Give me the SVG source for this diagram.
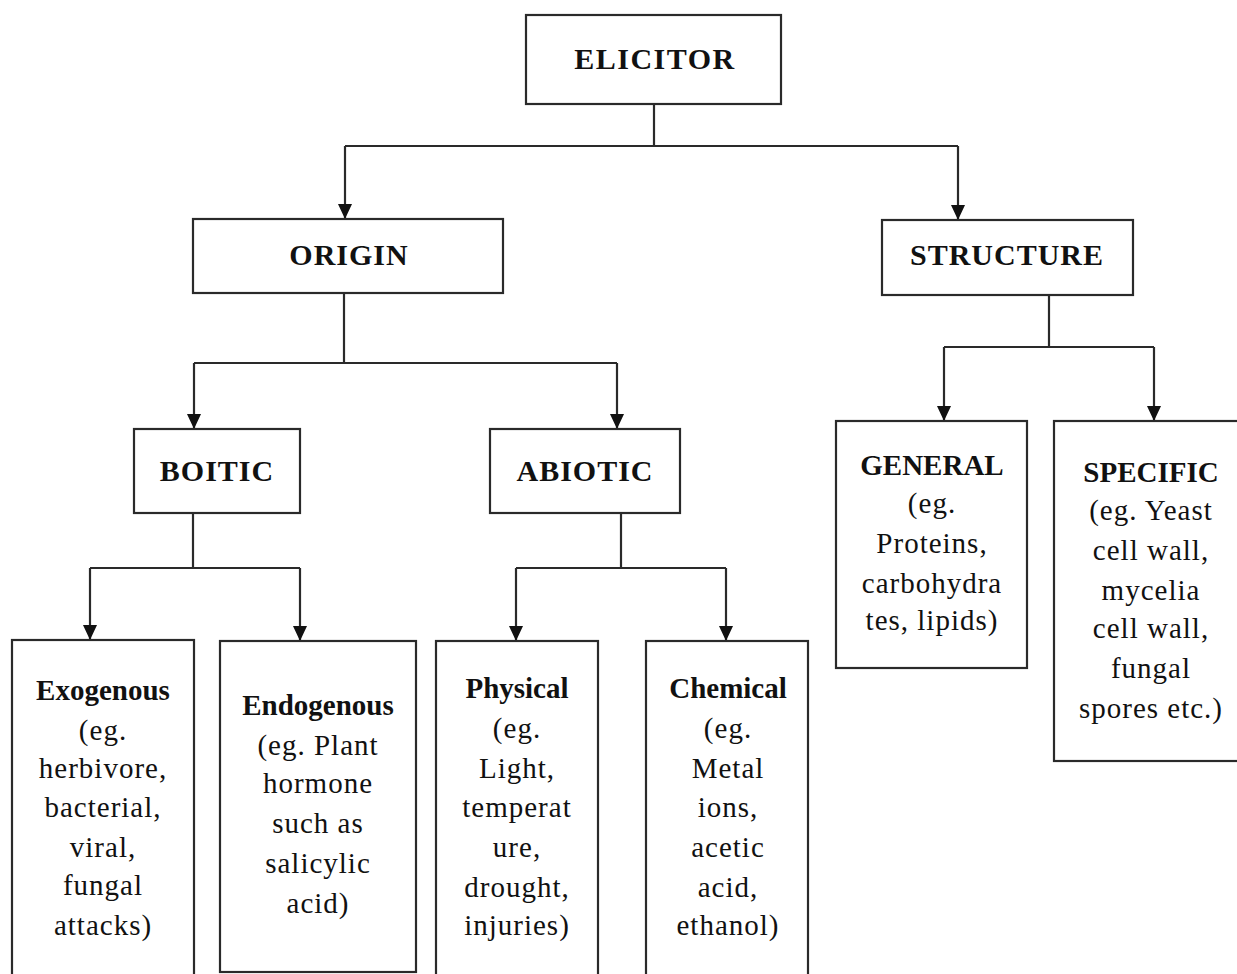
<svg xmlns="http://www.w3.org/2000/svg" width="1237" height="974" viewBox="0 0 1237 974">
<style>
.box{fill:#fff;stroke:#2a2a2a;stroke-width:2.2}
.ln{fill:none;stroke:#2a2a2a;stroke-width:2.2}
.h{font-family:"Liberation Serif","Times New Roman",serif;font-weight:bold;font-size:30px;letter-spacing:1px;text-anchor:middle;fill:#111}
.b{font-family:"Liberation Serif","Times New Roman",serif;font-weight:bold;font-size:29px;text-anchor:middle;fill:#111}
.t{font-family:"Liberation Serif","Times New Roman",serif;font-size:29px;letter-spacing:1px;text-anchor:middle;fill:#111}
</style>
<defs>
<marker id="ah" markerUnits="userSpaceOnUse" markerWidth="16" markerHeight="16" viewBox="0 0 16 16" refX="8" refY="15" orient="auto-start-reverse">
<path d="M1,0 L15,0 L8,15 Z" fill="#111" transform="rotate(-90 8 8)"/>
</marker>
<marker id="arr" markerUnits="userSpaceOnUse" markerWidth="16" markerHeight="16" viewBox="0 0 16 16" refX="15" refY="8" orient="auto">
<path d="M0,1 L15,8 L0,15 Z" fill="#111"/>
</marker>
</defs>
<rect width="1237" height="974" fill="#fff"/>

<g id="connectors">
<path class="ln" d="M654,104 V146 M345,146 H958"/>
<path class="ln" d="M345,146 V219" marker-end="url(#arr)"/>
<path class="ln" d="M958,146 V220" marker-end="url(#arr)"/>
<path class="ln" d="M344,293 V363 M194,363 H617"/>
<path class="ln" d="M194,363 V429" marker-end="url(#arr)"/>
<path class="ln" d="M617,363 V429" marker-end="url(#arr)"/>
<path class="ln" d="M193,513 V568 M90,568 H300"/>
<path class="ln" d="M90,568 V640" marker-end="url(#arr)"/>
<path class="ln" d="M300,568 V641" marker-end="url(#arr)"/>
<path class="ln" d="M621,513 V568 M516,568 H726"/>
<path class="ln" d="M516,568 V641" marker-end="url(#arr)"/>
<path class="ln" d="M726,568 V641" marker-end="url(#arr)"/>
<path class="ln" d="M1049,295 V347 M944,347 H1154"/>
<path class="ln" d="M944,347 V421" marker-end="url(#arr)"/>
<path class="ln" d="M1154,347 V421" marker-end="url(#arr)"/>
</g>

<g id="elicitor">
<rect class="box" x="526" y="15" width="255" height="89"/>
<text class="h" x="655" y="69" style="letter-spacing:1.5px">ELICITOR</text>
</g>
<g id="origin">
<rect class="box" x="193" y="219" width="310" height="74"/>
<text class="h" x="349" y="265">ORIGIN</text>
</g>
<g id="structure">
<rect class="box" x="882" y="220" width="251" height="75"/>
<text class="h" x="1007" y="265">STRUCTURE</text>
</g>
<g id="boitic">
<rect class="box" x="134" y="429" width="166" height="84"/>
<text class="h" x="217" y="481">BOITIC</text>
</g>
<g id="abiotic">
<rect class="box" x="490" y="429" width="190" height="84"/>
<text class="h" x="585" y="481">ABIOTIC</text>
</g>
<g id="exogenous">
<rect class="box" x="12" y="640" width="182" height="350"/>
<text class="b" x="103" y="700">Exogenous</text>
<text class="t" x="103"><tspan x="103" y="740">(eg.</tspan><tspan x="103" y="778">herbivore,</tspan><tspan x="103" y="817">bacterial,</tspan><tspan x="103" y="857">viral,</tspan><tspan x="103" y="895">fungal</tspan><tspan x="103" y="935">attacks)</tspan></text>
</g>
<g id="endogenous">
<rect class="box" x="220" y="641" width="196" height="331"/>
<text class="b" x="318" y="715">Endogenous</text>
<text class="t" x="318"><tspan x="318" y="755">(eg. Plant</tspan><tspan x="318" y="793">hormone</tspan><tspan x="318" y="833">such as</tspan><tspan x="318" y="873">salicylic</tspan><tspan x="318" y="913">acid)</tspan></text>
</g>
<g id="physical">
<rect class="box" x="436" y="641" width="162" height="350"/>
<text class="b" x="517" y="698">Physical</text>
<text class="t" x="517"><tspan x="517" y="738">(eg.</tspan><tspan x="517" y="778">Light,</tspan><tspan x="517" y="817">temperat</tspan><tspan x="517" y="857">ure,</tspan><tspan x="517" y="897">drought,</tspan><tspan x="517" y="935">injuries)</tspan></text>
</g>
<g id="chemical">
<rect class="box" x="646" y="641" width="162" height="350"/>
<text class="b" x="728" y="698">Chemical</text>
<text class="t" x="728"><tspan x="728" y="738">(eg.</tspan><tspan x="728" y="778">Metal</tspan><tspan x="728" y="817">ions,</tspan><tspan x="728" y="857">acetic</tspan><tspan x="728" y="897">acid,</tspan><tspan x="728" y="935">ethanol)</tspan></text>
</g>
<g id="general">
<rect class="box" x="836" y="421" width="191" height="247"/>
<text class="b" x="932" y="475">GENERAL</text>
<text class="t" x="932"><tspan x="932" y="513">(eg.</tspan><tspan x="932" y="553">Proteins,</tspan><tspan x="932" y="593">carbohydra</tspan><tspan x="932" y="630">tes, lipids)</tspan></text>
</g>
<g id="specific">
<rect class="box" x="1054" y="421" width="195" height="340"/>
<text class="b" x="1151" y="482">SPECIFIC</text>
<text class="t" x="1151"><tspan x="1151" y="520">(eg. Yeast</tspan><tspan x="1151" y="560">cell wall,</tspan><tspan x="1151" y="600">mycelia</tspan><tspan x="1151" y="638">cell wall,</tspan><tspan x="1151" y="678">fungal</tspan><tspan x="1151" y="718">spores etc.)</tspan></text>
</g>
</svg>
